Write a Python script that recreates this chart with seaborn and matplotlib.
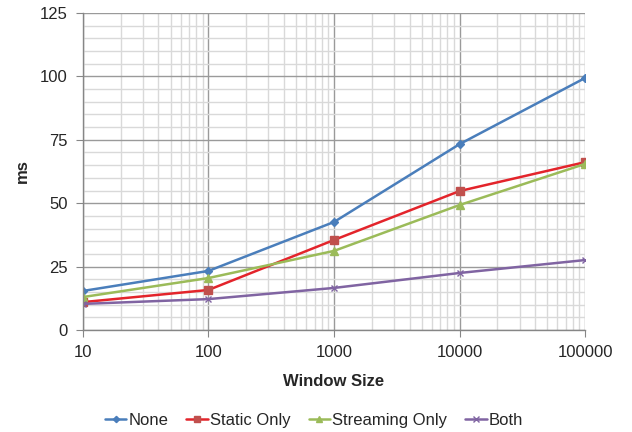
import pandas as pd
import matplotlib.pyplot as plt
import seaborn as sns
from matplotlib.ticker import LogLocator, MultipleLocator, FixedLocator

window = [10, 100, 1000, 10000, 100000]
none = [15.4, 23.3, 42.6, 73.3, 99.4]
static_only = [11.0, 15.8, 35.5, 54.8, 66.2]
streaming_only = [13.0, 20.5, 31.2, 49.3, 65.5]
both = [10.3, 12.2, 16.6, 22.5, 27.6]

series = ["None", "Static Only", "Streaming Only", "Both"]
colors = ["#4A7EBB", "#E3242B", "#9BBB59", "#8064A2"]
marker_colors = ["#4A7EBB", "#C0504D", "#9BBB59", "#8064A2"]
markers = ["D", "s", "^", "x"]
msizes = [4, 6, 6, 5]

df = pd.DataFrame({
    "Window Size": window * 4,
    "ms": none + static_only + streaming_only + both,
    "series": sum([[s] * len(window) for s in series], []),
})

sns.set_style("white")
plt.rcParams["font.family"] = ["Liberation Sans", "DejaVu Sans"]

fig = plt.figure(figsize=(6.32, 4.32), dpi=100)
ax = fig.add_axes([0.131, 0.236, 0.795, 0.734])

for s, c, mc, m, ms in zip(series, colors, marker_colors, markers, msizes):
    sub = df[df["series"] == s]
    sns.lineplot(data=sub, x="Window Size", y="ms", ax=ax, color=c, linewidth=1.8,
                 marker=m, markersize=ms, markerfacecolor=mc, markeredgecolor=mc,
                 markeredgewidth=1.0, label=s)

ax.set_xscale("log")
ax.set_xlim(10, 100000)
ax.set_ylim(0, 125)
ax.xaxis.set_major_locator(FixedLocator(window))
ax.set_xticklabels([str(w) for w in window])
ax.xaxis.set_minor_locator(LogLocator(base=10, subs=range(2, 10)))
ax.xaxis.set_minor_formatter(plt.NullFormatter())
ax.yaxis.set_major_locator(MultipleLocator(25))
ax.yaxis.set_minor_locator(MultipleLocator(5))

ax.grid(which="major", color="#9A9A9A", linewidth=1)
ax.grid(which="minor", color="#D9D9D9", linewidth=1)
ax.set_axisbelow(True)

for sp in ["top", "right"]:
    ax.spines[sp].set_visible(False)
for sp in ["left", "bottom"]:
    ax.spines[sp].set_color("#868686")
    ax.spines[sp].set_linewidth(1)

ax.tick_params(axis="both", which="major", length=5, color="#868686",
               labelsize=12, direction="out", pad=6, left=True, bottom=True)
ax.tick_params(axis="both", which="minor", length=0)

ax.set_xlabel("Window Size", fontsize=12, fontweight="bold", labelpad=10)
ax.set_ylabel("ms", fontsize=12, fontweight="bold", labelpad=7)

ax.legend(loc="upper center", bbox_to_anchor=(0.46, -0.215), ncol=4, frameon=False,
          fontsize=12, handlelength=1.3, handletextpad=0.1, columnspacing=1.1,
          markerscale=0.8)

fig.savefig("out.png", dpi=100)
